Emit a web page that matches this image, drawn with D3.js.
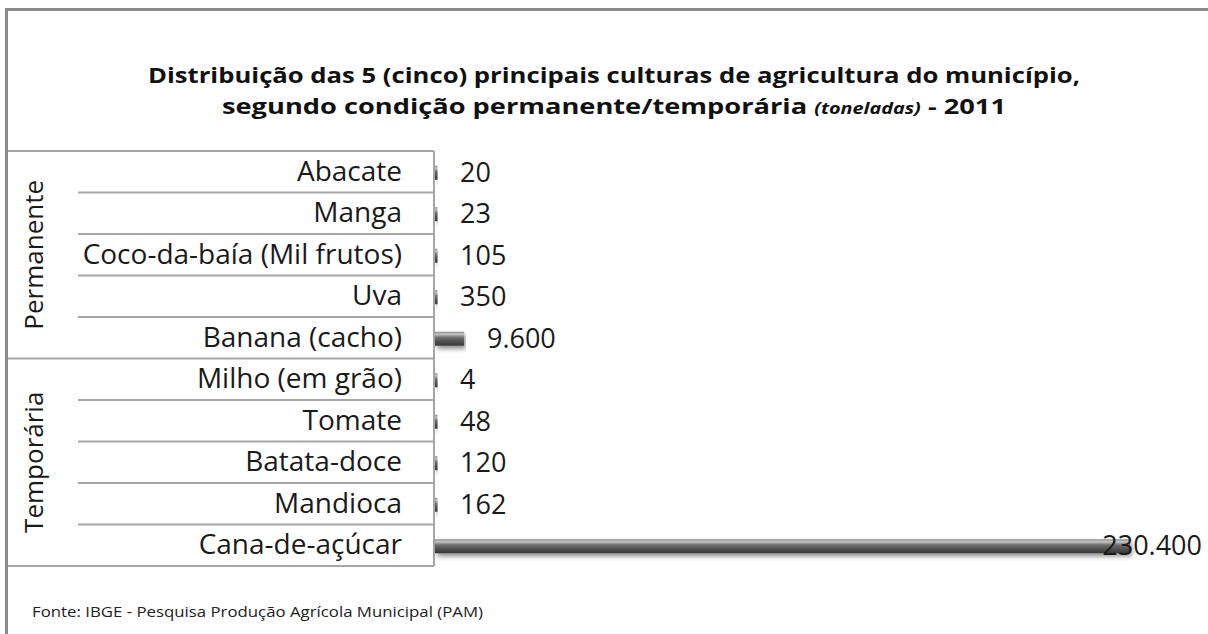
<!DOCTYPE html>
<html>
<head>
<meta charset="utf-8">
<script src="https://cdn.jsdelivr.net/npm/d3@7"></script>
<style>
  body { margin: 0; background: #fff; }
  svg { display: block; }
</style>
</head>
<body>
<div id="container"></div>
<script>
const WIDTH = 1208;
const HEIGHT = 634;
const FONT = "'Open Sans', 'Noto Sans', sans-serif";

// data
var groups = ["Permanente", "Temporária"];
var crops = ["Abacate", "Manga", "Coco-da-baía (Mil frutos)", "Uva", "Banana (cacho)",
             "Milho (em grão)", "Tomate", "Batata-doce", "Mandioca", "Cana-de-açúcar"];
var cropGroup = ["Permanente", "Permanente", "Permanente", "Permanente", "Permanente",
                 "Temporária", "Temporária", "Temporária", "Temporária", "Temporária"];
var tonnes = [20, 23, 105, 350, 9600, 4, 48, 120, 162, 230400];

var ptBR = d3.formatLocale({decimal: ",", thousands: ".", grouping: [3], currency: ["R$", ""]});
var fmt = ptBR.format(",d");

var TABLE_LEFT = 8, SUB_LEFT = 78, AXIS_X = 434, TOP = 151, BOTTOM = 566;
var LINE_COLOR = "#a6a6a6";

var YScale = d3.scaleBand().domain(crops).range([TOP, BOTTOM]).padding(0);
var XScale = d3.scaleLinear().domain([0, 230400]).range([AXIS_X + 1, 1130]);

var svg = d3.select("#container").append("svg")
    .attr("width", WIDTH)
    .attr("height", HEIGHT);

var defs = svg.append("defs");
var grad = defs.append("linearGradient")
    .attr("id", "barGrad").attr("x1", 0).attr("y1", 0).attr("x2", 0).attr("y2", 1);
[[0, "#8c8c8c"], [0.18, "#c4c4c4"], [0.4, "#707070"], [0.75, "#4a4a4a"], [1, "#3a3a3a"]]
    .forEach(function (s) { grad.append("stop").attr("offset", s[0]).attr("stop-color", s[1]); });
var shadow = defs.append("filter").attr("id", "shadow")
    .attr("x", "-5%").attr("y", "-50%").attr("width", "110%").attr("height", "220%");
shadow.append("feGaussianBlur").attr("in", "SourceAlpha").attr("stdDeviation", 2.5);
shadow.append("feOffset").attr("dy", 3).attr("dx", 2).attr("result", "off");
shadow.append("feComponentTransfer").append("feFuncA").attr("type", "linear").attr("slope", 0.45);
var merge = shadow.append("feMerge");
merge.append("feMergeNode");
merge.append("feMergeNode").attr("in", "SourceGraphic");

// outer frame (top and left edges only visible)
svg.append("path")
    .attr("d", "M6.5," + HEIGHT + "V9.5H" + WIDTH)
    .attr("fill", "none").attr("stroke", "#8a8a8a").attr("stroke-width", 3);

// title
svg.append("text")
    .attr("x", 614).attr("y", 83)
    .attr("text-anchor", "middle")
    .attr("font-family", FONT).attr("font-weight", "bold").attr("fill", "#111")
    .attr("font-size", 22)
    .attr("textLength", 932).attr("lengthAdjust", "spacingAndGlyphs")
    .text("Distribuição das 5 (cinco) principais culturas de agricultura do município,");
var t2 = svg.append("text").attr("x", 614).attr("y", 114).attr("text-anchor", "middle")
    .attr("font-family", FONT).attr("font-weight", "bold").attr("fill", "#111")
    .attr("font-size", 22).attr("textLength", 784).attr("lengthAdjust", "spacingAndGlyphs");
t2.append("tspan").text("segundo condição permanente/temporária  ");
t2.append("tspan").attr("font-style", "italic").attr("font-size", 16).text("(toneladas)");
t2.append("tspan").text(" - 2011");

// category table
var table = svg.append("g");
table.append("line").attr("x1", TABLE_LEFT).attr("x2", AXIS_X).attr("y1", TOP).attr("y2", TOP)
    .attr("stroke", LINE_COLOR).attr("stroke-width", 2);
table.append("line").attr("x1", TABLE_LEFT).attr("x2", AXIS_X).attr("y1", BOTTOM).attr("y2", BOTTOM)
    .attr("stroke", LINE_COLOR).attr("stroke-width", 2);
table.append("line").attr("x1", AXIS_X).attr("x2", AXIS_X).attr("y1", TOP).attr("y2", BOTTOM)
    .attr("stroke", LINE_COLOR).attr("stroke-width", 2);

table.selectAll(".sep").data(crops.slice(1)).enter().append("line")
    .attr("class", "sep")
    .attr("x1", function (d, i) { return cropGroup[i + 1] !== cropGroup[i] ? TABLE_LEFT : SUB_LEFT; })
    .attr("x2", AXIS_X)
    .attr("y1", function (d) { return YScale(d); })
    .attr("y2", function (d) { return YScale(d); })
    .attr("stroke", LINE_COLOR).attr("stroke-width", 2);

table.selectAll(".cat").data(crops).enter().append("text")
    .attr("class", "cat")
    .attr("x", 402)
    .attr("y", function (d) { return YScale(d) + YScale.bandwidth() / 2 + 9; })
    .attr("text-anchor", "end")
    .attr("font-family", FONT).attr("font-size", 28).attr("fill", "#1a1a1a")
    .text(function (d) { return d; });

table.selectAll(".grp").data(groups).enter().append("text")
    .attr("class", "grp")
    .attr("transform", function (g) {
        var members = crops.filter(function (c, i) { return cropGroup[i] === g; });
        var y0 = YScale(members[0]), y1 = YScale(members[members.length - 1]) + YScale.bandwidth();
        return "translate(43," + ((y0 + y1) / 2) + ") rotate(-90)";
    })
    .attr("text-anchor", "middle")
    .attr("font-family", FONT).attr("font-size", 26).attr("fill", "#1a1a1a")
    .text(function (d) { return d; });

// bars
var BAR_H = 14;
var bars = svg.append("g");
bars.selectAll("rect").data(tonnes).enter().append("rect")
    .attr("x", XScale(0))
    .attr("y", function (d, i) { return YScale(crops[i]) + YScale.bandwidth() / 2 - BAR_H / 2 + 1; })
    .attr("width", function (d) { return Math.max(2.5, XScale(d) - XScale(0)); })
    .attr("height", BAR_H)
    .attr("fill", "url(#barGrad)")
    .attr("filter", "url(#shadow)");

bars.selectAll(".val").data(tonnes).enter().append("text")
    .attr("class", "val")
    .attr("x", function (d) {
        var x = Math.max(XScale(d), XScale(0) + 2) + 23;
        return x + 110 > WIDTH ? WIDTH - 6 : x;
    })
    .attr("text-anchor", function (d) {
        var x = Math.max(XScale(d), XScale(0) + 2) + 23;
        return x + 110 > WIDTH ? "end" : "start";
    })
    .attr("y", function (d, i) { return YScale(crops[i]) + YScale.bandwidth() / 2 + 10; })
    .attr("font-family", FONT).attr("font-size", 27).attr("fill", "#1a1a1a")
    .text(function (d) { return fmt(d); });

// source
svg.append("text")
    .attr("x", 32).attr("y", 617)
    .attr("font-family", FONT).attr("font-size", 15).attr("fill", "#222")
    .attr("textLength", 451).attr("lengthAdjust", "spacingAndGlyphs")
    .text("Fonte: IBGE - Pesquisa Produção Agrícola Municipal (PAM)");
</script>
</body>
</html>
